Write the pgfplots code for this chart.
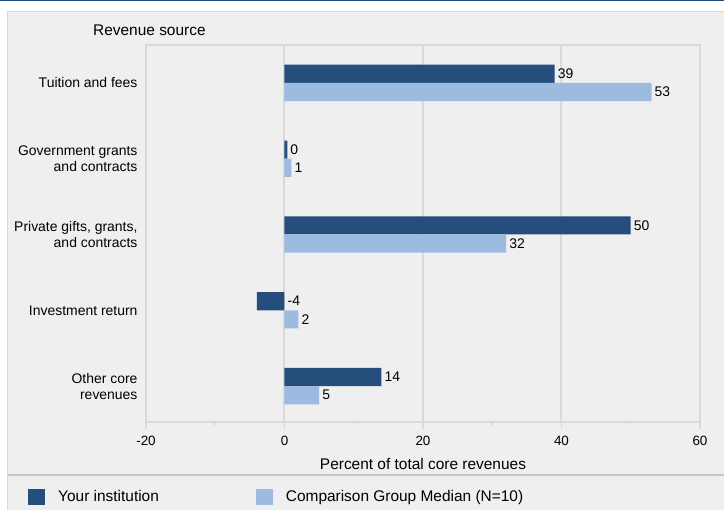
\documentclass[border=0pt]{standalone}
\usepackage{fontspec}
\setmainfont{Liberation Sans}
\usepackage{pgfplots}
\usepackage{pgfplotstable}
\pgfplotsset{compat=1.18}

\definecolor{panelgray}{RGB}{239,239,239}
\definecolor{linegray}{RGB}{217,217,217}
\definecolor{instblue}{RGB}{37,78,124}
\definecolor{medblue}{RGB}{157,187,224}
\definecolor{topblue}{RGB}{31,78,121}

% cat: category index, inst/med: bar values, *pos: where the value label starts
\pgfplotstableread{
cat inst med instpos instlbl
0 39   53 39  39
1 0.4  1  0.4 0
2 50   32 50  50
3 -4   2  0   -4
4 14   5  14  14
}\revenue

\begin{document}
\begin{tikzpicture}
  \path[use as bounding box] (0,0) rectangle (724bp,510bp);
  \fill[white] (0,0) rectangle (724bp,510bp);
  \fill[topblue] (0,508.5bp) rectangle (724bp,510bp);
  \fill[panelgray] (7.5bp,0) rectangle (724bp,498.3bp);
  \draw[linegray, line width=0.8bp] (7.5bp,0) -- (7.5bp,498.3bp) -- (724bp,498.3bp);
  \draw[linegray!90!black!95, line width=2bp] (7.5bp,35bp) -- (724bp,35bp);
  \node[anchor=base west, inner sep=0pt, font=\fontsize{15.5}{18}\selectfont]
    at (93bp,474bp) {Revenue source};

  \begin{axis}[
      at={(146bp,88.3bp)}, anchor=south west,
      scale only axis,
      width=554bp, height=376.7bp,
      xmin=-20, xmax=60,
      ymin=-0.5, ymax=4.47,
      y dir=reverse,
      xtick={-20,0,20,40,60},
      xticklabels={-20,0,20,40,60},
      minor xtick={-10,10,30,50},
      xtick pos=bottom,
      ytick={0,...,4},
      yticklabels={Tuition and fees,
        {Government grants\\and contracts},
        {Private gifts, grants,\\and contracts},
        Investment return,
        {Other core\\revenues}},
      ytick style={draw=none},
      tick align=outside,
      major tick length=7bp,
      minor tick length=3.5bp,
      xtick style={linegray, line width=1.5bp},
      axis line style={linegray, line width=2bp},
      xmajorgrids,
      grid style={linegray, line width=2bp},
      yticklabel style={align=right, xshift=2bp, font=\fontsize{14}{16}\selectfont},
      xticklabel style={yshift=-4bp, font=\fontsize{13.5}{16}\selectfont},
      xlabel={Percent of total core revenues},
      xlabel style={yshift=-6bp, font=\fontsize{15.5}{18}\selectfont},
      every node near coord/.append style={anchor=west, inner sep=3bp,
        fill=none, text=black, font=\fontsize{14}{16}\selectfont},
      legend columns=2,
      legend cell align=left,
      legend style={at={(-0.213,-0.2)}, anchor=west,
        draw=none, fill=none, inner sep=0pt,
        font=\fontsize{15.5}{18}\selectfont,
        /tikz/every even column/.append style={column sep=95bp}},
      legend image code/.code={%
        \fill[#1] (0bp,-8bp) rectangle (17bp,8bp);
        \path[draw=none, fill=none] (17bp,0bp) -- (28bp,0bp);},
    ]
    \addplot[xbar, bar width=0.24, bar shift=-0.12, fill=instblue, draw=none]
      table[x=inst, y=cat] {\revenue};
    \addlegendentry{Your institution}
    \addplot[xbar, bar width=0.24, bar shift=0.12, fill=medblue, draw=none]
      table[x=med, y=cat] {\revenue};
    \addlegendentry{Comparison Group Median (N=10)}

    \addplot[sharp plot, draw=none, mark=none, forget plot,
      nodes near coords, point meta=explicit symbolic]
      table[x=instpos, y expr=\thisrow{cat}-0.12, meta=instlbl] {\revenue};
    \addplot[sharp plot, draw=none, mark=none, forget plot,
      nodes near coords, point meta=explicit symbolic]
      table[x=med, y expr=\thisrow{cat}+0.12, meta=med] {\revenue};
  \end{axis}
\end{tikzpicture}
\end{document}
